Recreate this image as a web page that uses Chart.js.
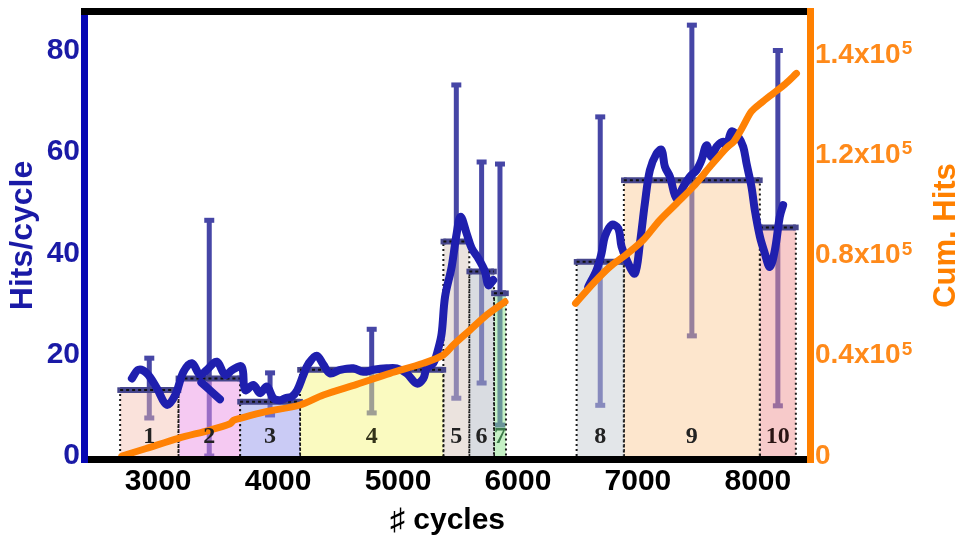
<!DOCTYPE html>
<html>
<head>
<meta charset="utf-8">
<script src="https://cdn.jsdelivr.net/npm/chart.js@4.4.1/dist/chart.umd.min.js"></script>
<style>
  html, body { margin: 0; padding: 0; background: #fff; }
  #chart { display: block; }
</style>
</head>
<body>
<canvas id="chart" width="968" height="541"></canvas>
<script>
// Hits per cycle over the ten run segments, cumulative hits on the right axis

const FONT = "'Liberation Sans', Arial, sans-serif";
const SERIF = "'Liberation Serif', 'Times New Roman', serif";

// x axis (cycles)
const xMin = 2415, xMax = 8410;
const xTicks = [3000, 4000, 5000, 6000, 7000, 8000];

// left axis (hits/cycle)
const hitsMax = 87;
const hitsTicks = [0, 20, 40, 60, 80];

// right axis (cumulative hits); exponent drawn as a superscript after the label
const cumMax = 176000;
const cumTicks = [0, 40000, 80000, 120000, 160000];
const cumTickLabels = ['0', '0.4x10', '0.8x10', '1.2x10', '1.4x10'];
const cumTickExp = ['', '5', '5', '5', '5'];

// segments: span in cycles and mean hits/cycle
const segNames = ['1', '2', '3', '4', '5', '6', '7', '8', '9', '10'];
const segStart = [2683, 3169, 3683, 4183, 5378, 5594, 5800, 6489, 6883, 8017];
const segEnd   = [3169, 3683, 4183, 5378, 5594, 5800, 5900, 6883, 8017, 8317];
const segMean  = [13.0, 15.3, 10.7, 17.0, 42.3, 36.4, 32.1, 38.3, 54.4, 45.1];
const segFill = [
  'rgba(245,190,175,0.45)', 'rgba(235,147,229,0.5)', 'rgba(150,152,235,0.5)',
  'rgba(245,245,130,0.5)', 'rgba(215,200,190,0.5)', 'rgba(180,186,195,0.5)',
  'rgba(140,225,140,0.5)', 'rgba(200,205,212,0.5)', 'rgba(250,200,145,0.45)',
  'rgba(240,150,150,0.5)'
];
const segLabelColor = ['#222', '#222', '#222', '#33331a', '#222', '#222', '#3d7a4a', '#222', '#222', '#2a1414'];

// spread of hits/cycle within each segment
const errLow  = [7.5, 0, 8.1, 8.5, 11.4, 14.4, 6.1, 10.0, 23.7, 9.9];
const errHigh = [19.3, 46.5, 16.4, 25.0, 73.2, 58.0, 57.6, 66.9, 85.0, 80.0];

// smoothed hits/cycle (null breaks the line)
const hitsX = [
  2781, 2836, 2906, 2989, 3072, 3142, 3211, 3281, 3350, 3406, 3489, 3558, 3620, 3697,
  3725, 3794, 3850, 3906, 3961, 4017, 4070, 4114, 4160, 4211, 4253, 4322, 4378, 4433,
  4517, 4628, 4711, 4794, 4906, 4989, 5072, 5156, 5211, 5239, 5294, 5336, 5364, 5392,
  5447, 5489, 5522, 5572, 5614, 5669, 5725, 5753, 5794,
  5794,
  3360, 3440, 3515,
  3515,
  6586, 6656, 6697, 6725, 6781, 6836, 6864, 6919, 6975, 7017, 7058, 7100, 7156, 7197,
  7225, 7267, 7322, 7378, 7433, 7489, 7531, 7572, 7614, 7656, 7711, 7739, 7781, 7836,
  7878, 7906, 7947, 7975, 8017, 8058, 8100, 8142, 8183, 8211
];
const hitsY = [
  15.3, 17.0, 16.3, 13.4, 10.1, 12.0, 16.6, 18.3, 16.0, 17.0, 18.6, 16.0, 17.0, 17.6,
  13.0, 14.0, 12.4, 13.7, 11.4, 11.0, 11.5, 11.7, 13.0, 16.0, 18.2, 19.8, 18.0, 16.3,
  17.0, 17.3, 16.6, 17.0, 17.3, 17.3, 16.3, 14.3, 15.3, 17.3, 18.3, 21.2, 24.2, 31.4,
  37.3, 43.9, 47.2, 43.9, 41.0, 39.0, 36.4, 33.7, 34.7,
  null,
  14.5, 12.8, 11.2,
  null,
  33.4, 36.7, 40.0, 43.3, 45.6, 44.9, 41.3, 38.0, 36.0, 42.0, 49.8, 56.4, 59.7, 60.4,
  57.1, 55.1, 50.8, 53.1, 55.1, 56.4, 58.4, 61.3, 59.0, 61.0, 62.0, 61.0, 64.0, 63.0,
  61.0, 57.7, 53.1, 48.5, 43.3, 40.0, 37.3, 40.6, 47.2, 49.5
];

// cumulative hits (null breaks the line)
const cumX = [
  2697, 2900, 3169, 3433, 3600, 3628, 3683, 3900, 4183, 4378, 4656, 4933, 5211, 5378,
  5461, 5600, 5739, 5892,
  5892,
  6480, 6628, 6767, 6906, 7044, 7183, 7322, 7461, 7600, 7739, 7800, 7870, 7947, 8030,
  8128, 8230, 8322
];
const cumY = [
  0, 3000, 7060, 10370, 12900, 14200, 15040, 17700, 20350, 24340, 28600, 33000, 37000, 40300,
  44300, 50270, 56260, 61570,
  null,
  60900, 68900, 75530, 80500, 86180, 94160, 100800, 107450, 115400, 123000, 125500, 131000, 137500, 141000,
  144700, 148500, 152700
];

const pts = (xs, ys) => xs.map((x, i) => ({ x: x, y: ys[i] }));
const segCenter = i => (segStart[i] + segEnd[i]) / 2;

const segmentSets = segNames.map((name, i) => ({
  label: 'segment ' + name,
  data: [
    { x: segStart[i], y: 0 }, { x: segStart[i], y: segMean[i] },
    { x: segEnd[i], y: segMean[i] }, { x: segEnd[i], y: 0 }
  ],
  yAxisID: 'y',
  borderColor: '#1a1a1a',
  borderWidth: 2,
  borderDash: [2, 3],
  backgroundColor: segFill[i],
  fill: 'origin',
  pointRadius: 0,
  tension: 0,
  order: 5
}));

const topData = [];
const errData = [];
segNames.forEach((n, i) => {
  topData.push({ x: segStart[i], y: segMean[i] }, { x: segEnd[i], y: segMean[i] }, { x: segEnd[i], y: null });
  errData.push({ x: segCenter(i), y: errLow[i] }, { x: segCenter(i), y: errHigh[i] }, { x: segCenter(i), y: null });
});

// keep the plot box where the layout padding puts it
const noPad = s => { s.paddingTop = 0; s.paddingBottom = 0; s.paddingLeft = 0; s.paddingRight = 0; };

const TICK_PAD = 8;
const cumTickFont = 'bold 28px ' + FONT;

const decorations = {
  id: 'decorations',
  afterDatasetsDraw(chart) {
    const { ctx, scales } = chart;
    ctx.save();
    ctx.font = 'bold 24px ' + SERIF;
    ctx.textAlign = 'center';
    ctx.textBaseline = 'alphabetic';
    segNames.forEach((n, i) => {
      ctx.fillStyle = segLabelColor[i];
      ctx.fillText(n, scales.x.getPixelForValue(segCenter(i)), scales.y.getPixelForValue(2.6));
    });
    ctx.restore();
  },
  afterDraw(chart) {
    const { ctx, chartArea: a, scales } = chart;
    const t = 7;
    ctx.save();
    // thick frame: blue left, orange right, black top and bottom
    ctx.fillStyle = '#000';
    ctx.fillRect(a.left - t, a.bottom, a.right - a.left + 2 * t, t);
    ctx.fillStyle = '#0606b4';
    ctx.fillRect(a.left - t, a.top - t, t, a.bottom - a.top + 2 * t);
    ctx.fillStyle = '#ff8000';
    ctx.fillRect(a.right, a.top - t, t, a.bottom - a.top + 2 * t);
    ctx.fillStyle = '#000';
    ctx.fillRect(a.left - t, a.top - t, a.right - a.left + t, t);

    // exponents on the right tick labels
    ctx.fillStyle = '#ff8a1a';
    ctx.textAlign = 'left';
    ctx.textBaseline = 'alphabetic';
    cumTicks.forEach((v, i) => {
      if (!cumTickExp[i]) return;
      ctx.font = cumTickFont;
      const w = ctx.measureText(cumTickLabels[i]).width;
      ctx.font = 'bold 19px ' + FONT;
      ctx.fillText(cumTickExp[i], a.right + TICK_PAD + w + 1, scales.y2.getPixelForValue(v) - 1);
    });

    // right axis title, reading upward
    ctx.translate(946, (a.top + a.bottom) / 2);
    ctx.rotate(-Math.PI / 2);
    ctx.font = 'bold 31px ' + FONT;
    ctx.fillStyle = '#ff8000';
    ctx.textAlign = 'center';
    ctx.textBaseline = 'middle';
    ctx.fillText('Cum. Hits', 0, 0);
    ctx.restore();
  }
};

new Chart(document.getElementById('chart'), {
  type: 'line',
  data: {
    datasets: [
      {
        label: 'Cum. Hits',
        data: pts(cumX, cumY),
        yAxisID: 'y2',
        borderColor: '#ff8205',
        borderWidth: 7,
        borderCapStyle: 'round',
        pointRadius: 0,
        tension: 0.3,
        fill: false,
        order: 1
      },
      {
        label: 'Hits/cycle',
        data: pts(hitsX, hitsY),
        yAxisID: 'y',
        borderColor: '#1f1fae',
        borderWidth: 8,
        borderCapStyle: 'round',
        borderJoinStyle: 'round',
        pointRadius: 0,
        tension: 0.35,
        fill: false,
        order: 2
      },
      {
        label: 'segment mean dots',
        data: topData,
        yAxisID: 'y',
        borderColor: '#111',
        borderWidth: 2,
        borderDash: [3, 3],
        pointRadius: 0,
        fill: false,
        order: 3
      },
      {
        label: 'segment mean',
        data: topData,
        yAxisID: 'y',
        borderColor: '#46468c',
        borderWidth: 6,
        pointStyle: 'rect',
        pointRadius: 4,
        pointBackgroundColor: '#46468c',
        pointBorderWidth: 0,
        fill: false,
        order: 4
      },
      ...segmentSets,
      {
        label: 'spread',
        data: errData,
        yAxisID: 'y',
        borderColor: '#4646a6',
        borderWidth: 5,
        pointStyle: 'line',
        pointRadius: 5,
        pointBorderWidth: 5,
        pointBorderColor: '#4646a6',
        fill: false,
        order: 6
      }
    ]
  },
  options: {
    responsive: false,
    animation: false,
    devicePixelRatio: 1,
    layout: { padding: { top: 15, left: 0, right: 0, bottom: 0 } },
    plugins: { legend: { display: false }, tooltip: { enabled: false } },
    elements: { line: { spanGaps: false } },
    scales: {
      x: {
        type: 'linear',
        position: 'bottom',
        min: xMin,
        max: xMax,
        grid: { display: false },
        border: { display: false },
        afterBuildTicks: s => { s.ticks = xTicks.map(v => ({ value: v })); },
        afterFit: s => { s.height = 85; noPad(s); },
        ticks: {
          color: '#000',
          padding: 0,
          font: { family: FONT, size: 30, weight: 'bold' },
          callback: v => String(v)
        },
        title: {
          display: true,
          text: '\u266F cycles',
          color: '#000',
          font: { family: FONT, size: 30, weight: 'bold' },
          padding: { top: 0, bottom: 2 }
        }
      },
      y: {
        type: 'linear',
        position: 'left',
        min: 0,
        max: hitsMax,
        grid: { display: false, drawTicks: false },
        border: { display: false },
        afterBuildTicks: s => { s.ticks = hitsTicks.map(v => ({ value: v })); },
        afterFit: s => { s.width = 88; noPad(s); },
        ticks: {
          color: '#1a1aa6',
          padding: TICK_PAD,
          font: { family: FONT, size: 30, weight: 'bold' }
        },
        title: {
          display: true,
          text: 'Hits/cycle',
          color: '#1a1aa6',
          font: { family: FONT, size: 32, weight: 'bold' },
          padding: { top: 4, bottom: 0 }
        }
      },
      y2: {
        type: 'linear',
        position: 'right',
        min: 0,
        max: cumMax,
        grid: { display: false, drawTicks: false },
        border: { display: false },
        afterBuildTicks: s => { s.ticks = cumTicks.map(v => ({ value: v })); },
        afterFit: s => { s.width = 161; noPad(s); },
        ticks: {
          color: '#ff8a1a',
          padding: TICK_PAD,
          font: { family: FONT, size: 28, weight: 'bold' },
          callback: (v, i) => cumTickLabels[i]
        }
      }
    }
  },
  plugins: [decorations]
});
</script>
</body>
</html>
